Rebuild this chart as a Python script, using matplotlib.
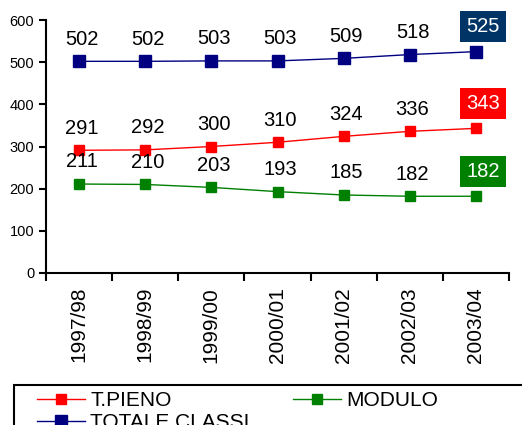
import matplotlib.pyplot as plt
from matplotlib.patches import Rectangle
import numpy as np

plt.rcParams['font.family'] = ['Liberation Sans', 'DejaVu Sans']

years = ['1997/98', '1998/99', '1999/00', '2000/01', '2001/02', '2002/03', '2003/04']
pieno = [291, 292, 300, 310, 324, 336, 343]
modulo = [211, 210, 203, 193, 185, 182, 182]
totale = [502, 502, 503, 503, 509, 518, 525]

fig = plt.figure(figsize=(5.22, 4.25), dpi=100)
ax = fig.add_axes([46/522, 1-273/425, (509-46)/522, (273-20)/425])

x = np.arange(len(years))
series = [(pieno, '#ff0000', 'T.PIENO', 7.2),
          (modulo, '#008000', 'MODULO', 7.2),
          (totale, '#000080', 'TOTALE CLASSI', 8.6)]
handles = {}
for vals, col, name, ms in series:
    h, = ax.plot(x, vals, color=col, lw=1, marker='s', ms=ms, mec=col, mfc=col, label=name)
    handles[name] = h
    box_col = '#003366' if name == 'TOTALE CLASSI' else col
    for i, v in enumerate(vals):
        if i == len(vals) - 1:
            ax.annotate(str(v), (x[i], v), xytext=(5, 18), textcoords='offset points',
                        ha='center', va='center', fontsize=14.5, color='white',
                        bbox=dict(boxstyle='square,pad=0.3', fc=box_col, ec='none'))
        else:
            ax.annotate(str(v), (x[i], v), xytext=(2, 16), textcoords='offset points',
                        ha='center', va='center', fontsize=14.5, color='black')

ax.set_xlim(-0.5, len(years) - 0.5)
ax.set_ylim(0, 600)
ax.set_yticks(range(0, 601, 100))
ax.tick_params(axis='y', labelsize=10.5, direction='out', length=5, width=1.5)
ax.set_xticks(np.arange(-0.5, len(years), 1.0))
ax.set_xticklabels([])
ax.set_xticks(x, minor=True)
ax.set_xticklabels(years, minor=True, rotation=90, fontsize=15)
ax.tick_params(axis='x', which='major', direction='out', length=6, width=1.5)
ax.tick_params(axis='x', which='minor', length=0, pad=10)
for s in ['top', 'right']:
    ax.spines[s].set_visible(False)
for s in ['left', 'bottom']:
    ax.spines[s].set_linewidth(1.5)

# legend frame, cut off by the figure edges like the original
fig.patches.append(Rectangle((14/522, -0.1), 1.0, 0.1 + 1 - 385/425, transform=fig.transFigure,
                             fill=False, ec='black', lw=1.5))
fig.legend([handles['T.PIENO'], handles['TOTALE CLASSI'], handles['MODULO']],
           ['T.PIENO', 'TOTALE CLASSI', 'MODULO'],
           loc='upper left', bbox_to_anchor=(37/522, 1-391/425),
           ncol=2, fontsize=15, frameon=False, handlelength=2.3, handletextpad=0.25,
           labelspacing=0.15, borderpad=0, borderaxespad=0, columnspacing=2.1)

fig.savefig('out.png', dpi=100)
